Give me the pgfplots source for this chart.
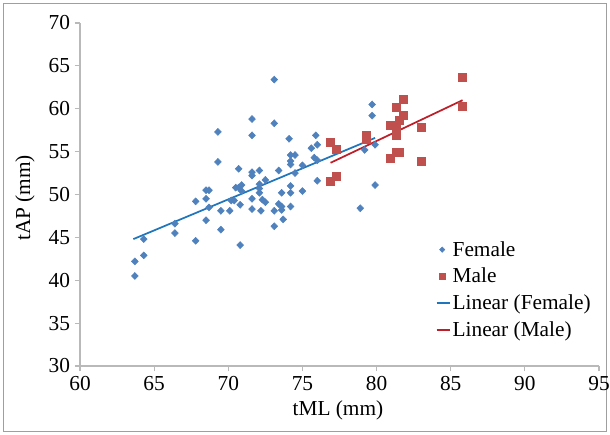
\documentclass[border=0pt]{standalone}
\usepackage{fontspec}
\setmainfont{Liberation Serif}
\usepackage{pgfplots}
\pgfplotsset{compat=1.18}
\definecolor{femblue}{RGB}{79,129,189}
\definecolor{malered}{RGB}{192,80,77}
\definecolor{femline}{RGB}{31,118,188}
\definecolor{maleline}{RGB}{190,30,40}
\definecolor{axgray}{RGB}{185,185,185}
\pgfplotsset{
  small mark legend/.style={legend image code/.code={%
    \draw[mark repeat=2,mark phase=2,##1,mark size=#1]
      plot coordinates {(0cm,0cm) (0.2cm,0cm) (0.4cm,0cm)};}},
  short line legend/.style={legend image code/.code={%
    \draw[##1] (0.05cm,0cm) -- (0.4cm,0cm);}},
}

\begin{document}
\begin{tikzpicture}
\path[use as bounding box] (0pt,0pt) rectangle (457.5pt,326.25pt);
\draw[gray!75, line width=1pt] (2.5pt,2.5pt) rectangle (455pt,323.75pt);
\begin{axis}[
    at={(60pt,51.75pt)}, anchor=south west,
    scale only axis, width=389.25pt, height=257.25pt,
    xmin=60, xmax=95, ymin=30, ymax=70,
    xtick={60,65,...,95}, ytick={30,35,...,70},
    axis x line*=bottom, axis y line*=left,
    axis line style={axgray, line width=0.8pt, -},
    tick style={axgray, line width=0.8pt},
    tick align=outside, major tick length=4pt,
    /pgf/number format/assume math mode=true,
    ticklabel style={font=\fontsize{16}{19}\selectfont},
    xlabel={tML (mm)}, ylabel={tAP (mm)},
    label style={font=\fontsize{16}{19}\selectfont},
    xlabel style={at={(axis description cs:0.497,-0.13)}, anchor=center},
    ylabel style={at={(axis description cs:-0.106,0.49)}, anchor=center},
    legend style={at={(0.677,0.38)}, anchor=north west, draw=none, fill=none,
        font=\fontsize{16}{19}\selectfont, row sep=3.5pt,
        nodes={inner xsep=1.5pt}},
    legend cell align=left,
]
\addplot[only marks, mark=diamond*, mark size=2.6pt, color=femblue,
    mark options={xscale=1.3}, small mark legend=2pt] coordinates {
  (63.7,42.2)(63.7,40.5)(64.3,44.8)(64.3,42.9)(66.4,46.6)(66.4,45.5)
  (67.8,44.6)(67.8,49.2)(68.5,50.5)(68.7,50.5)(68.5,49.5)(68.5,47.0)
  (68.7,48.5)(69.3,57.3)(69.3,53.8)(69.5,48.1)(69.5,45.9)(70.1,48.1)
  (70.2,49.3)(70.4,49.3)(70.7,53.0)(70.5,50.8)(70.7,50.8)(70.9,51.1)
  (70.8,48.8)(70.8,44.1)(70.9,50.4)(71.6,58.8)(71.6,56.9)(71.6,52.6)
  (71.6,52.2)(71.6,49.5)(71.6,48.3)(72.1,52.8)(72.1,51.2)(72.1,50.7)
  (72.1,50.2)(72.2,48.1)(72.3,49.4)(72.5,51.7)(72.5,49.1)(73.1,63.4)
  (73.1,58.3)(73.1,48.1)(73.1,46.3)(73.4,52.8)(73.4,48.9)(73.6,48.6)
  (73.6,48.2)(73.6,50.2)(73.7,47.1)(74.1,56.5)(74.2,54.6)(74.2,53.9)
  (74.2,53.5)(74.2,51.0)(74.2,50.2)(74.2,48.6)(74.5,54.6)(74.5,52.5)
  (75.0,53.4)(75.0,50.4)(75.6,55.4)(75.8,54.3)(75.9,56.9)(76.0,55.8)
  (76.0,51.6)(76.0,54.0)(78.9,48.4)(79.2,55.2)(79.7,60.5)(79.7,59.2)
  (79.9,55.8)(79.9,51.1)};
\addlegendentry{Female}
\addplot[only marks, mark=square*, mark size=3pt, color=malered,
    small mark legend=2.1pt] coordinates {
  (76.9,56.1)(77.3,55.3)(76.9,51.6)(77.3,52.1)(79.3,56.9)(79.3,56.4)
  (80.9,58.1)(81.3,60.2)(81.8,61.1)(81.8,59.2)(81.5,58.6)(81.3,57.6)
  (81.3,56.9)(80.9,54.2)(81.3,54.9)(81.5,54.9)(83.0,57.8)(83.0,53.9)
  (85.8,63.7)(85.8,60.3)};
\addlegendentry{Male}
\addplot[femline, line width=1.3pt, no marks, short line legend]
    coordinates {(63.6,44.8)(79.9,56.6)};
\addlegendentry{Linear (Female)}
\addplot[maleline, line width=1.3pt, no marks, short line legend]
    coordinates {(76.9,53.7)(85.8,61.0)};
\addlegendentry{Linear (Male)}
\end{axis}
\end{tikzpicture}
\end{document}
